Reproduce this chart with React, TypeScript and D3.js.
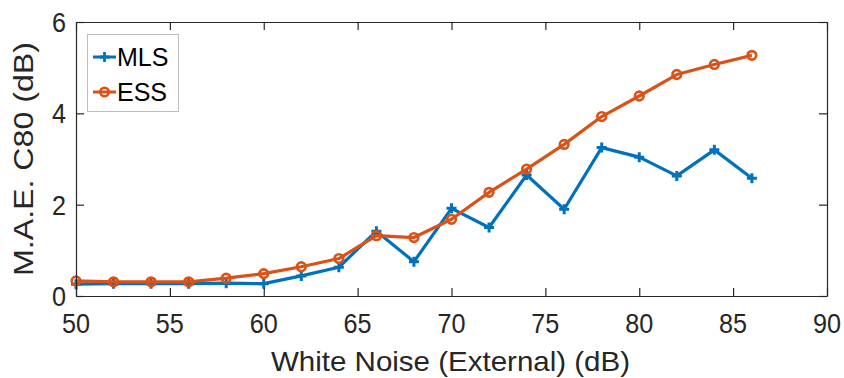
import React, { useRef, useEffect } from "react";
import * as d3 from "d3";

const noise = [50, 52, 54, 56, 58, 60, 62, 64, 66, 68, 70, 72, 74, 76, 78, 80, 82, 84, 86];
const mls = [0.26, 0.27, 0.27, 0.27, 0.28, 0.27, 0.44, 0.63, 1.42, 0.75, 1.92, 1.5, 2.65, 1.9, 3.25, 3.04, 2.63, 3.2, 2.58];
const ess = [0.33, 0.31, 0.31, 0.31, 0.39, 0.49, 0.64, 0.82, 1.32, 1.28, 1.68, 2.27, 2.78, 3.32, 3.93, 4.38, 4.85, 5.07, 5.27];
const xTicks = [50, 55, 60, 65, 70, 75, 80, 85, 90];
const yTicks = [0, 2, 4, 6];

const BLUE = "#0072BD";
const ORANGE = "#D95319";
const AXIS = "#262626";
const FONT = "'Liberation Sans', Arial, sans-serif";

const App = () => {
  const ref = useRef<SVGSVGElement>(null);

  useEffect(() => {
    const svg = d3.select(ref.current);
    svg.selectAll("*").remove();

    const width = 844;
    const height = 378;
    const margin = { top: 22, right: 17, bottom: 82, left: 76 };

    const x = d3.scaleLinear().domain([50, 90]).range([margin.left, width - margin.right]);
    const y = d3.scaleLinear().domain([0, 6]).range([height - margin.bottom, margin.top]);

    svg.append("rect").attr("width", width).attr("height", height).attr("fill", "#fff");

    // data lines
    const line = d3.line<number>().x((_, i) => x(noise[i])).y(d => y(d));

    svg.append("path").datum(mls).attr("d", line).attr("fill", "none")
      .attr("stroke", BLUE).attr("stroke-width", 3.2).attr("stroke-linejoin", "round");
    svg.selectAll(".plus").data(mls).enter().append("path")
      .attr("d", (d, i) => {
        const cx = x(noise[i]), cy = y(d), s = 5;
        return `M${cx - s},${cy}H${cx + s}M${cx},${cy - s}V${cy + s}`;
      })
      .attr("stroke", BLUE).attr("stroke-width", 3);

    svg.append("path").datum(ess).attr("d", line).attr("fill", "none")
      .attr("stroke", ORANGE).attr("stroke-width", 3.2).attr("stroke-linejoin", "round");
    svg.selectAll(".circ").data(ess).enter().append("circle")
      .attr("cx", (_, i) => x(noise[i])).attr("cy", d => y(d)).attr("r", 4.3)
      .attr("fill", "none").attr("stroke", ORANGE).attr("stroke-width", 2.7);

    // axes box (ticks inward, labels drawn separately)
    const bottom = svg.append("g").attr("transform", `translate(0,${height - margin.bottom})`)
      .call(d3.axisBottom(x).tickValues(xTicks).tickSizeInner(-8).tickSizeOuter(0).tickFormat(() => ""));
    const top = svg.append("g").attr("transform", `translate(0,${margin.top})`)
      .call(d3.axisTop(x).tickValues(xTicks).tickSizeInner(-8).tickSizeOuter(0).tickFormat(() => ""));
    const left = svg.append("g").attr("transform", `translate(${margin.left},0)`)
      .call(d3.axisLeft(y).tickValues(yTicks).tickSizeInner(-8).tickSizeOuter(0).tickFormat(() => ""));
    const right = svg.append("g").attr("transform", `translate(${width - margin.right},0)`)
      .call(d3.axisRight(y).tickValues(yTicks).tickSizeInner(-8).tickSizeOuter(0).tickFormat(() => ""));

    [bottom, top, left, right].forEach(g => {
      g.select(".domain").attr("stroke", AXIS).attr("stroke-width", 1.2);
      g.selectAll(".tick line").attr("stroke", AXIS).attr("stroke-width", 1.2);
    });

    // tick labels, slightly condensed like the original
    svg.append("g").selectAll("g").data(xTicks).enter().append("g")
      .attr("transform", d => `translate(${x(d)},${height - margin.bottom + 37}) scale(0.9,1)`)
      .append("text").attr("text-anchor", "middle").attr("font-family", FONT)
      .attr("font-size", 28).attr("fill", AXIS).text(d => d3.format("d")(d));
    svg.append("g").selectAll("g").data(yTicks).enter().append("g")
      .attr("transform", d => `translate(${margin.left - 10},${y(d)}) scale(0.9,1)`)
      .append("text").attr("text-anchor", "end").attr("dy", "0.36em").attr("font-family", FONT)
      .attr("font-size", 28).attr("fill", AXIS).text(d => d3.format("d")(d));

    // axis labels
    svg.append("text").attr("x", 271).attr("y", 371)
      .attr("textLength", 359).attr("lengthAdjust", "spacingAndGlyphs")
      .attr("font-family", FONT).attr("font-size", 28)
      .attr("fill", AXIS).text("White Noise (External) (dB)");
    svg.append("text").attr("transform", `translate(33,276) rotate(-90)`)
      .attr("textLength", 234).attr("lengthAdjust", "spacingAndGlyphs")
      .attr("font-family", FONT).attr("font-size", 28)
      .attr("fill", AXIS).text("M.A.E. C80 (dB)");

    // legend
    const lg = svg.append("g");
    lg.append("rect").attr("x", 87.5).attr("y", 34.5).attr("width", 91).attr("height", 77)
      .attr("fill", "#fff").attr("stroke", "#bdbdbd").attr("stroke-width", 1);
    const items = [
      { name: "MLS", color: BLUE, cy: 57 },
      { name: "ESS", color: ORANGE, cy: 92 },
    ];
    items.forEach(it => {
      lg.append("line").attr("x1", 93).attr("x2", 116).attr("y1", it.cy).attr("y2", it.cy)
        .attr("stroke", it.color).attr("stroke-width", 3);
      if (it.name === "MLS") {
        lg.append("path").attr("d", `M${99.5},${it.cy}H${109.5}M${104.5},${it.cy - 5}V${it.cy + 5}`)
          .attr("stroke", it.color).attr("stroke-width", 2.8);
      } else {
        lg.append("circle").attr("cx", 104.5).attr("cy", it.cy).attr("r", 4.2)
          .attr("fill", "none").attr("stroke", it.color).attr("stroke-width", 2.6);
      }
      lg.append("text").attr("x", 117).attr("y", it.cy).attr("dy", "0.36em")
        .attr("font-family", FONT).attr("font-size", 25).attr("fill", "#000").text(it.name);
    });
  }, []);

  return (
    <svg ref={ref} width={844} height={378}
      style={{ position: "absolute", left: 0, top: 0, display: "block" }} />
  );
};

export default App;
